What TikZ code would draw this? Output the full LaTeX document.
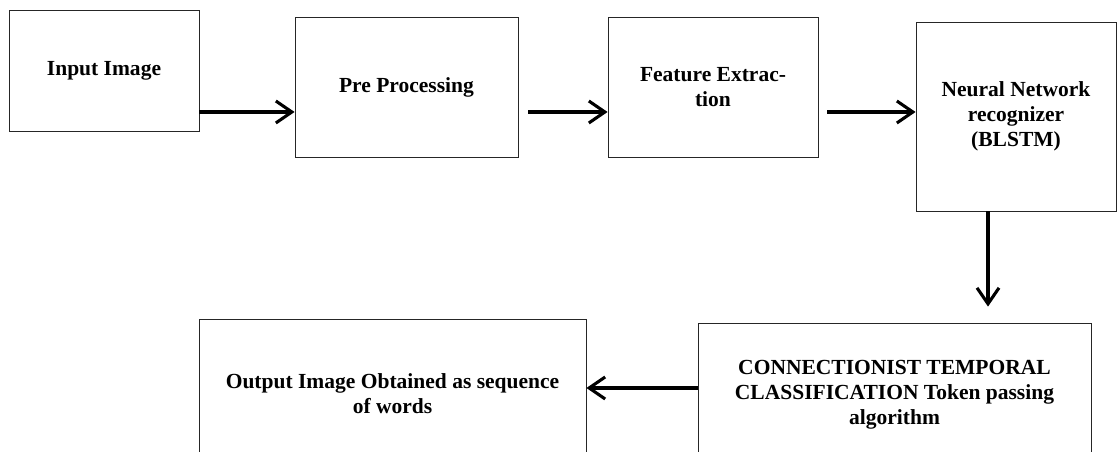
\documentclass[tikz,border=0pt]{standalone}
\usepackage{fontspec}
\setmainfont{Liberation Serif}
\usetikzlibrary{arrows.meta,positioning}

\begin{document}
\begin{tikzpicture}[every node/.style={rectangle,draw=black!85,line width=0.6pt,
  align=center,inner sep=2pt,font=\bfseries\fontsize{15.3}{17.6}\selectfont},
  flow/.style={line width=2.2pt,-{Straight Barb[length=4mm,width=5.5mm]}}]
\clip (0,0) rectangle (27.95,11.3);
\node[minimum width=4.75cm,minimum height=3.025cm] (in) at (2.6,9.5375) {Input Image};
\node[minimum width=5.575cm,minimum height=3.5cm] (pre) at (10.1625,9.125) {Pre Processing};
\node[minimum width=5.25cm,minimum height=3.5cm] (fe) at (17.825,9.125) {Feature Extrac-\\tion};
\node[minimum width=5cm,minimum height=4.725cm] (nn) at (25.4,8.3875) {Neural Network\\recognizer\\(BLSTM)};
\node[minimum width=9.825cm,minimum height=3.6cm] (ctc) at (22.3625,1.425)
  {CONNECTIONIST TEMPORAL\\CLASSIFICATION Token passing\\algorithm};
\node[minimum width=9.675cm,minimum height=3.75cm] (out) at (9.8125,1.45)
  {Output Image Obtained as sequence\\of words};
\draw[flow] (in.east |- 0,8.5) -- (pre.west |- 0,8.5);
\draw[flow] ([xshift=0.25cm]pre.east |- 0,8.5) -- (fe.west |- 0,8.5);
\draw[flow] ([xshift=0.225cm]fe.east |- 0,8.5) -- (nn.west |- 0,8.5);
\draw[flow] (nn.south -| 24.7,0) -- ([yshift=0.4cm]ctc.north -| 24.7,0);
\draw[flow] (ctc.west |- 0,1.6) -- (out.east |- 0,1.6);
\end{tikzpicture}
\end{document}
